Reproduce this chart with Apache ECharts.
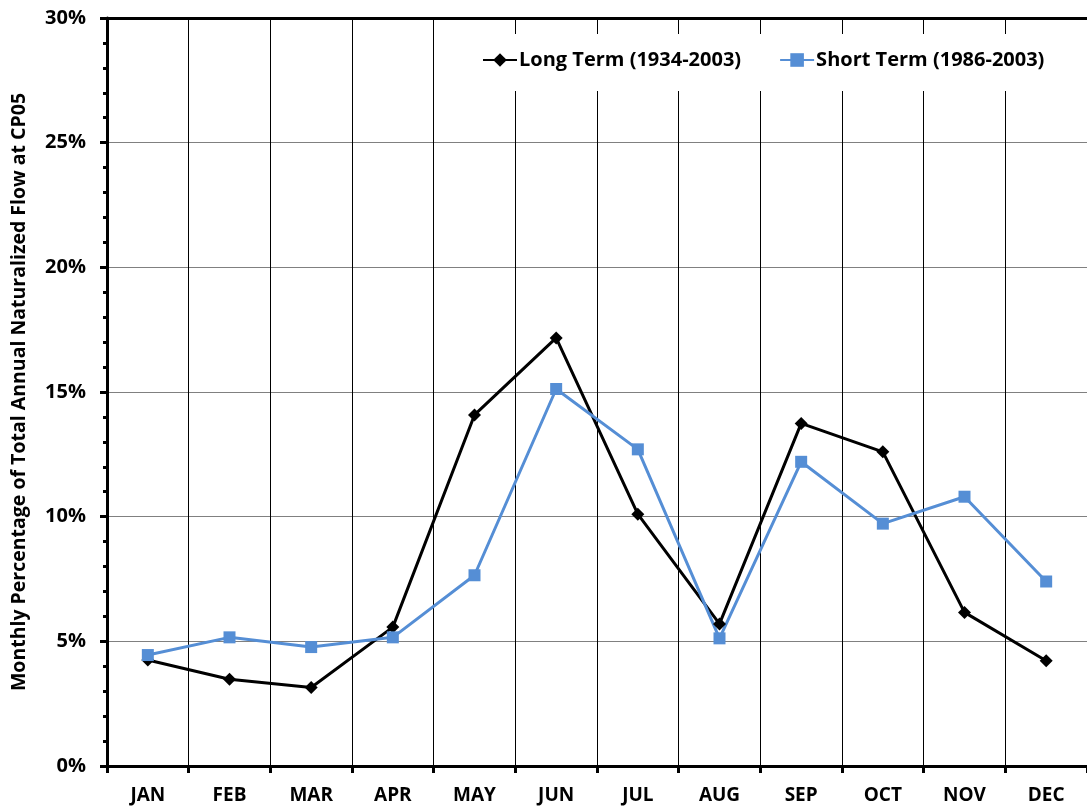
<!DOCTYPE html>
<html>
<head>
<meta charset="utf-8">
<script src="https://cdn.jsdelivr.net/npm/echarts@6/dist/echarts.min.js"></script>
<style>html,body{margin:0;padding:0;background:#fff;}#c{width:1087px;height:809px;}</style>
</head>
<body>
<div id="c"></div>
<script>
const months = ['JAN','FEB','MAR','APR','MAY','JUN','JUL','AUG','SEP','OCT','NOV','DEC'];
const longTerm = [4.25, 3.48, 3.15, 5.57, 14.08, 17.17, 10.1, 5.7, 13.74, 12.6, 6.16, 4.22];
const shortTerm = [4.45, 5.16, 4.77, 5.16, 7.65, 15.12, 12.7, 5.12, 12.2, 9.72, 10.8, 7.4];
const yTicks = {min: 0, max: 30, interval: 5};
const seriesNames = ['Long Term (1934-2003)', 'Short Term (1986-2003)'];

const FONT = '"Open Sans"';
const chart = echarts.init(document.getElementById('c'));
chart.setOption({
  animation: false,
  backgroundColor: '#fff',
  textStyle: {fontFamily: FONT},
  grid: {left: 107, top: 18, width: 988, height: 748, containLabel: false},
  legend: {
    data: seriesNames,
    left: 472, top: 34,
    padding: [16, 10, 21, 10],
    backgroundColor: '#fff',
    itemWidth: 34, itemHeight: 17, itemGap: 38,
    textStyle: {fontFamily: FONT, fontWeight: 'bold', fontSize: 20, color: '#000', padding: [0,0,0,-3]}
  },
  xAxis: [{
    type: 'category', data: months, boundaryGap: true,
    axisLine: {lineStyle: {color: '#000', width: 3}},
    axisTick: {show: true, alignWithLabel: false, length: 7, lineStyle: {color: '#000', width: 3}},
    axisLabel: {fontFamily: FONT, fontWeight: 'bold', fontSize: 19, color: '#000', margin: 20, interval: 0},
    splitLine: {show: true, lineStyle: {color: '#000', width: 1}}
  }, {
    type: 'category', data: months, position: 'top', boundaryGap: true,
    axisLine: {lineStyle: {color: '#000', width: 3}},
    axisTick: {show: false}, axisLabel: {show: false}, splitLine: {show: false}
  }],
  yAxis: {
    type: 'value', min: yTicks.min, max: yTicks.max, interval: yTicks.interval,
    name: 'Monthly Percentage of Total Annual Naturalized Flow at CP05',
    nameLocation: 'middle', nameGap: 78,
    nameTextStyle: {fontFamily: FONT, fontWeight: 'bold', fontSize: 19.5, color: '#000'},
    axisLine: {show: true, lineStyle: {color: '#000', width: 3}},
    axisTick: {show: true, inside: false, length: 7, lineStyle: {color: '#000', width: 3}},
    minorTick: {show: true, splitNumber: 5, length: 4, lineStyle: {color: '#000', width: 3}},
    axisLabel: {fontFamily: FONT, fontWeight: 'bold', fontSize: 20, color: '#000', margin: 21, formatter: '{value}%'},
    splitLine: {show: true, lineStyle: {color: '#808080', width: 1}}
  },
  series: [{
    name: seriesNames[0], type: 'line', data: longTerm,
    symbol: 'diamond', symbolSize: 13,
    lineStyle: {color: '#000', width: 3},
    itemStyle: {color: '#000'}
  }, {
    name: seriesNames[1], type: 'line', data: shortTerm,
    symbol: 'rect', symbolSize: 12,
    lineStyle: {color: '#558ED5', width: 3},
    itemStyle: {color: '#558ED5'}
  }]
});
</script>
</body>
</html>
